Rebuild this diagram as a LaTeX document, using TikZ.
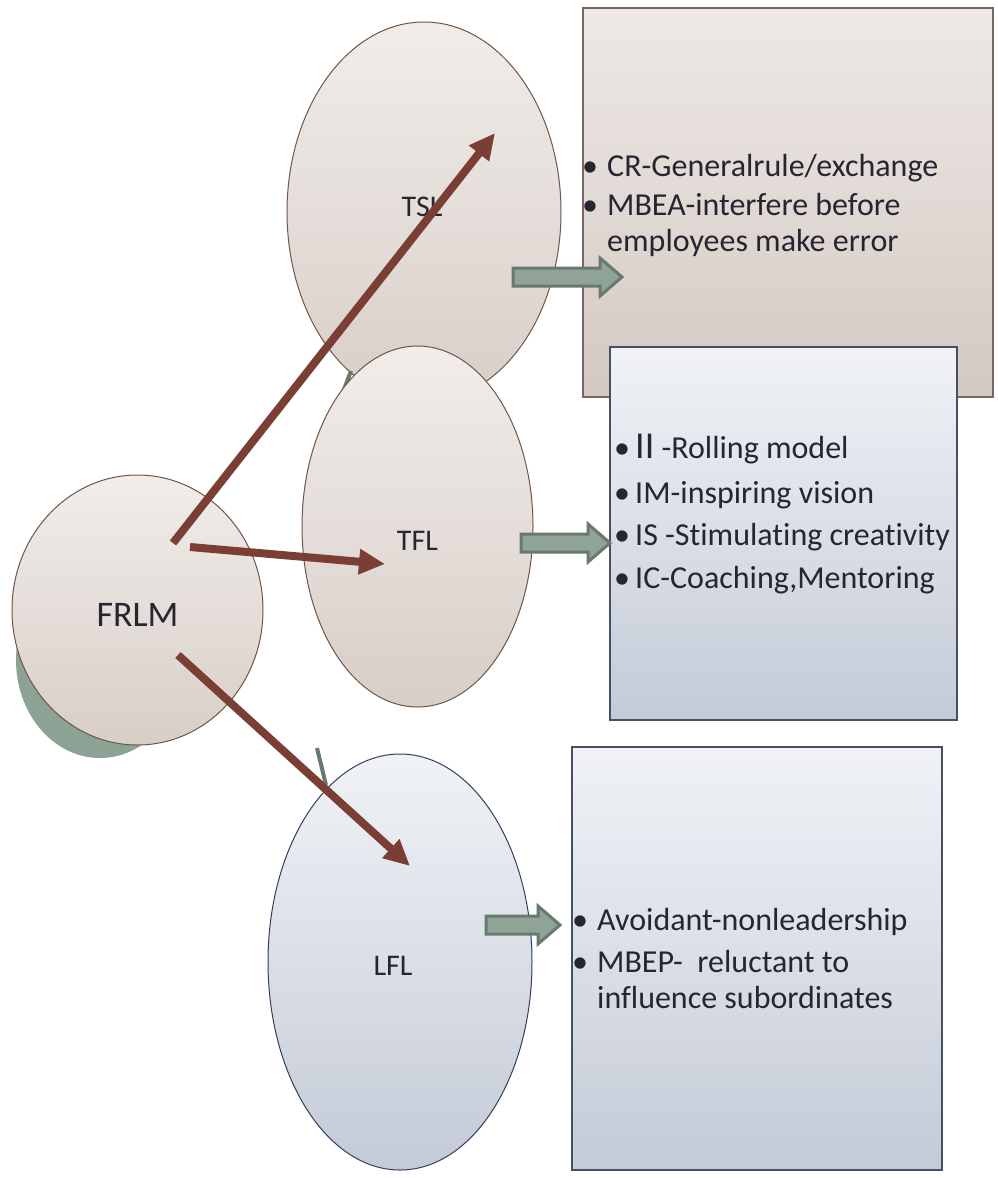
\documentclass[tikz,border=0pt]{standalone}
\usepackage{fontspec}
\setmainfont{Carlito}[Ligatures=NoCommon]
\usetikzlibrary{shapes.geometric,arrows.meta}
\definecolor{brn}{RGB}{122,62,52}
\definecolor{ebord}{RGB}{110,85,72}
\definecolor{bbord}{RGB}{50,62,88}
\definecolor{tbord}{RGB}{120,102,92}
\definecolor{ubord}{RGB}{70,80,100}
\definecolor{etop}{RGB}{241,237,234}
\definecolor{ebot}{RGB}{216,206,200}
\definecolor{btop}{RGB}{240,242,246}
\definecolor{bbot}{RGB}{196,203,215}
\definecolor{ttop}{RGB}{238,233,230}
\definecolor{tbot}{RGB}{212,201,195}
\definecolor{gfill}{RGB}{143,164,150}
\definecolor{gbord}{RGB}{104,122,109}
\definecolor{shad}{RGB}{140,162,148}
\definecolor{txt}{RGB}{38,38,48}
\newcommand\blkarrow[3]{%
  \filldraw[fill=gfill,draw=gbord,line width=3pt,line join=miter]
   ({#1},{#3-9}) -- ({#2-22},{#3-9}) -- ({#2-22},{#3-19}) -- ({#2},{#3})
   -- ({#2-22},{#3+19}) -- ({#2-22},{#3+9}) -- ({#1},{#3+9}) -- cycle;}
\begin{document}
\begin{tikzpicture}[x=1pt,y=-1pt,
  ellb/.style={ellipse,inner sep=0pt,draw=ebord,line width=1pt,top color=etop,bottom color=ebot},
  ellu/.style={ellipse,inner sep=0pt,draw=bbord,line width=1pt,top color=btop,bottom color=bbot},
  boxt/.style={rectangle,inner sep=0pt,draw=tbord,line width=1.5pt,top color=ttop,bottom color=tbot},
  boxu/.style={rectangle,inner sep=0pt,draw=ubord,line width=1.5pt,top color=btop,bottom color=bbot},
  lbl/.style={text=txt,font=\fontsize{30}{36}\selectfont,inner sep=0pt},
  itm/.style={text=txt,font=\fontsize{32}{37}\selectfont,inner sep=0pt,anchor=base west},
  bul/.style={text=txt,font=\fontsize{32}{37}\selectfont,inner sep=0pt,anchor=base},
  conn/.style={draw=brn,line width=8pt,-{Triangle[length=26pt,width=24pt]}},
  greenmark/.style={draw=gbord,line width=4pt}]
\useasboundingbox (0,0) rectangle (997,1178);
% FRLM with shadow
\fill[shad] (100,660) ellipse [x radius=84pt,y radius=98pt];
\node[ellb,minimum width=251pt,minimum height=270pt] (frlm) at (137.5,610) {};
% boxes
\node[boxt,minimum width=410pt,minimum height=389pt] (tslbox) at (788,202.5) {};
\node[boxu,minimum width=347pt,minimum height=373pt] (tflbox) at (783.5,533.5) {};
\node[boxu,minimum width=370pt,minimum height=423pt] (lflbox) at (757,958.5) {};
% ellipses
\node[ellb,minimum width=274pt,minimum height=380pt] (tsl) at (424,212) {};
\coordinate (m1a) at (351,371);
\coordinate (m1b) at (343,392);
\draw[greenmark] (m1a) -- (m1b);
\node[ellb,minimum width=231pt,minimum height=361pt] (tfl) at (417.5,526.5) {};
\coordinate (m2a) at (317,748);
\coordinate (m2b) at (326,785);
\draw[greenmark] (m2a) -- (m2b);
\node[ellu,minimum width=264pt,minimum height=416pt] (lfl) at (400,962) {};
% labels
\node[lbl,font=\fontsize{36}{40}\selectfont] (frlmt) at (137.5,615) {FRLM};
\node[lbl] (tslt) at (422,207) {TSL};
\node[lbl] (tflt) at (417.5,541) {TFL};
\node[lbl] (lflt) at (393,966) {LFL};
% connectors
\coordinate (a1s) at (173,543);
\coordinate (a1e) at (495,133);
\coordinate (a2s) at (190,547);
\coordinate (a2e) at (385,564);
\coordinate (a3s) at (178,655);
\coordinate (a3e) at (410,866);
\draw[conn] (a1s) -- (a1e);
\draw[conn] (a2s) -- (a2e);
\draw[conn] (a3s) -- (a3e);
% block arrows
\blkarrow{513}{622}{277}
\blkarrow{521}{610}{543}
\blkarrow{486}{560}{925}
% TSL box text
\node[bul] (b11) at (590,176) {•};
\node[itm] (t11) at (607,176) {CR-Generalrule/exchange};
\node[bul] (b12) at (590,215) {•};
\node[itm] (t12) at (607,215) {MBEA-interfere before};
\node[itm] (t12b) at (607,251) {employees make error};
% TFL box text
\node[bul] (b21) at (622,458) {•};
\node[itm] (t21) at (635,458) {{\fontsize{38}{37}\selectfont II} -Rolling model};
\node[bul] (b22) at (622,503) {•};
\node[itm] (t22) at (635,503) {IM-inspiring vision};
\node[bul] (b23) at (622,545) {•};
\node[itm] (t23) at (635,545) {IS -Stimulating creativity};
\node[bul] (b24) at (622,588) {•};
\node[itm] (t24) at (635,588) {IC-Coaching,Mentoring};
% LFL box text
\node[bul] (b31) at (580,930) {•};
\node[itm] (t31) at (597,930) {Avoidant-nonleadership};
\node[bul] (b32) at (580,972) {•};
\node[itm] (t32) at (597,972) {MBEP-\ \ reluctant to};
\node[itm] (t32b) at (597,1008) {influence subordinates};
\end{tikzpicture}
\end{document}
